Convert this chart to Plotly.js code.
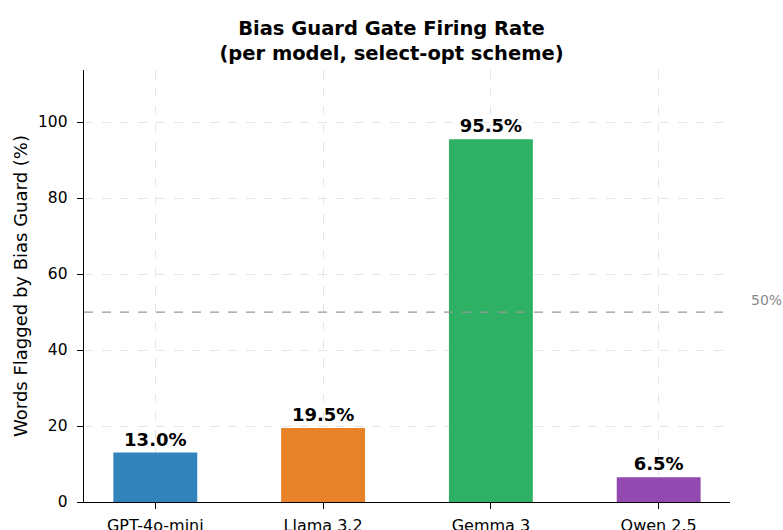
<!DOCTYPE html>
<html><head><meta charset="utf-8">
<script src="https://cdn.plot.ly/plotly-3.0.1.min.js"></script>
<style>html,body{margin:0;padding:0;background:#fff}</style>
</head><body><div id="chart" style="width:783px;height:530px"></div>
<script>
const models = ["GPT-4o-mini", "Llama 3.2", "Gemma 3", "Qwen 2.5"];
const rates = [13.0, 19.5, 95.5, 6.5];
const colors = ["#2980b9", "#e67e22", "#27ae60", "#8e44ad"];
const threshold = 50;
const yTicks = [0, 20, 40, 60, 80, 100];

const font = "DejaVu Sans, sans-serif";
const trace = {
  type: "bar", x: models, y: rates,
  marker: {color: colors, opacity: 0.97, line: {width: 0}},
  width: 0.5,
  text: rates.map(v => v.toFixed(1) + "%"),
  textposition: "outside",
  textfont: {family: font, size: 18, color: "#000", weight: "bold"},
  cliponaxis: false,
  hoverinfo: "none"
};
const layout = {
  width: 783, height: 530,
  margin: {l: 84, r: 53, t: 70, b: 28},
  paper_bgcolor: "#fff", plot_bgcolor: "#fff",
  font: {family: font, size: 16, color: "#000"},
  title: {text: "<b>Bias Guard Gate Firing Rate<br>(per model, select-opt scheme)</b>",
          font: {family: font, size: 19.5, color: "#000"}, x: 0.5, xanchor: "center",
          yref: "container", y: 0.934, yanchor: "middle"},
  showlegend: false,
  xaxis: {range: [-0.425, 3.425], showline: true, linecolor: "#000", linewidth: 1.3,
          ticks: "outside", ticklen: 6, tickcolor: "#000", ticklabelstandoff: 2,
          showgrid: true, gridcolor: "rgba(200,200,200,0.45)", griddash: "dash", gridwidth: 1,
          tickfont: {family: font, size: 16}, zeroline: false},
  yaxis: {range: [0, 113.7], showline: true, linecolor: "#000", linewidth: 1.3,
          ticks: "outside", ticklen: 6, tickcolor: "#000", tickvals: yTicks, ticklabelstandoff: 6,
          showgrid: true, gridcolor: "rgba(200,200,200,0.45)", griddash: "dash", gridwidth: 1,
          zeroline: false, tickfont: {family: font, size: 15.5},
          title: {text: "Words Flagged by Bias Guard (%)", font: {family: font, size: 18}, standoff: 5}},
  shapes: [{type: "line", xref: "paper", x0: 0, x1: 1, yref: "y", y0: threshold, y1: threshold,
            line: {color: "#999", width: 1.3, dash: "dash"}}],
  annotations: [{xref: "paper", x: 1.03, xanchor: "left", yref: "y", y: threshold + 3.2, yanchor: "middle",
                 text: threshold + "%", showarrow: false, font: {family: font, size: 14, color: "#888"}}]
};
Plotly.newPlot("chart", [trace], layout, {displayModeBar: false, staticPlot: true});
</script></body></html>
